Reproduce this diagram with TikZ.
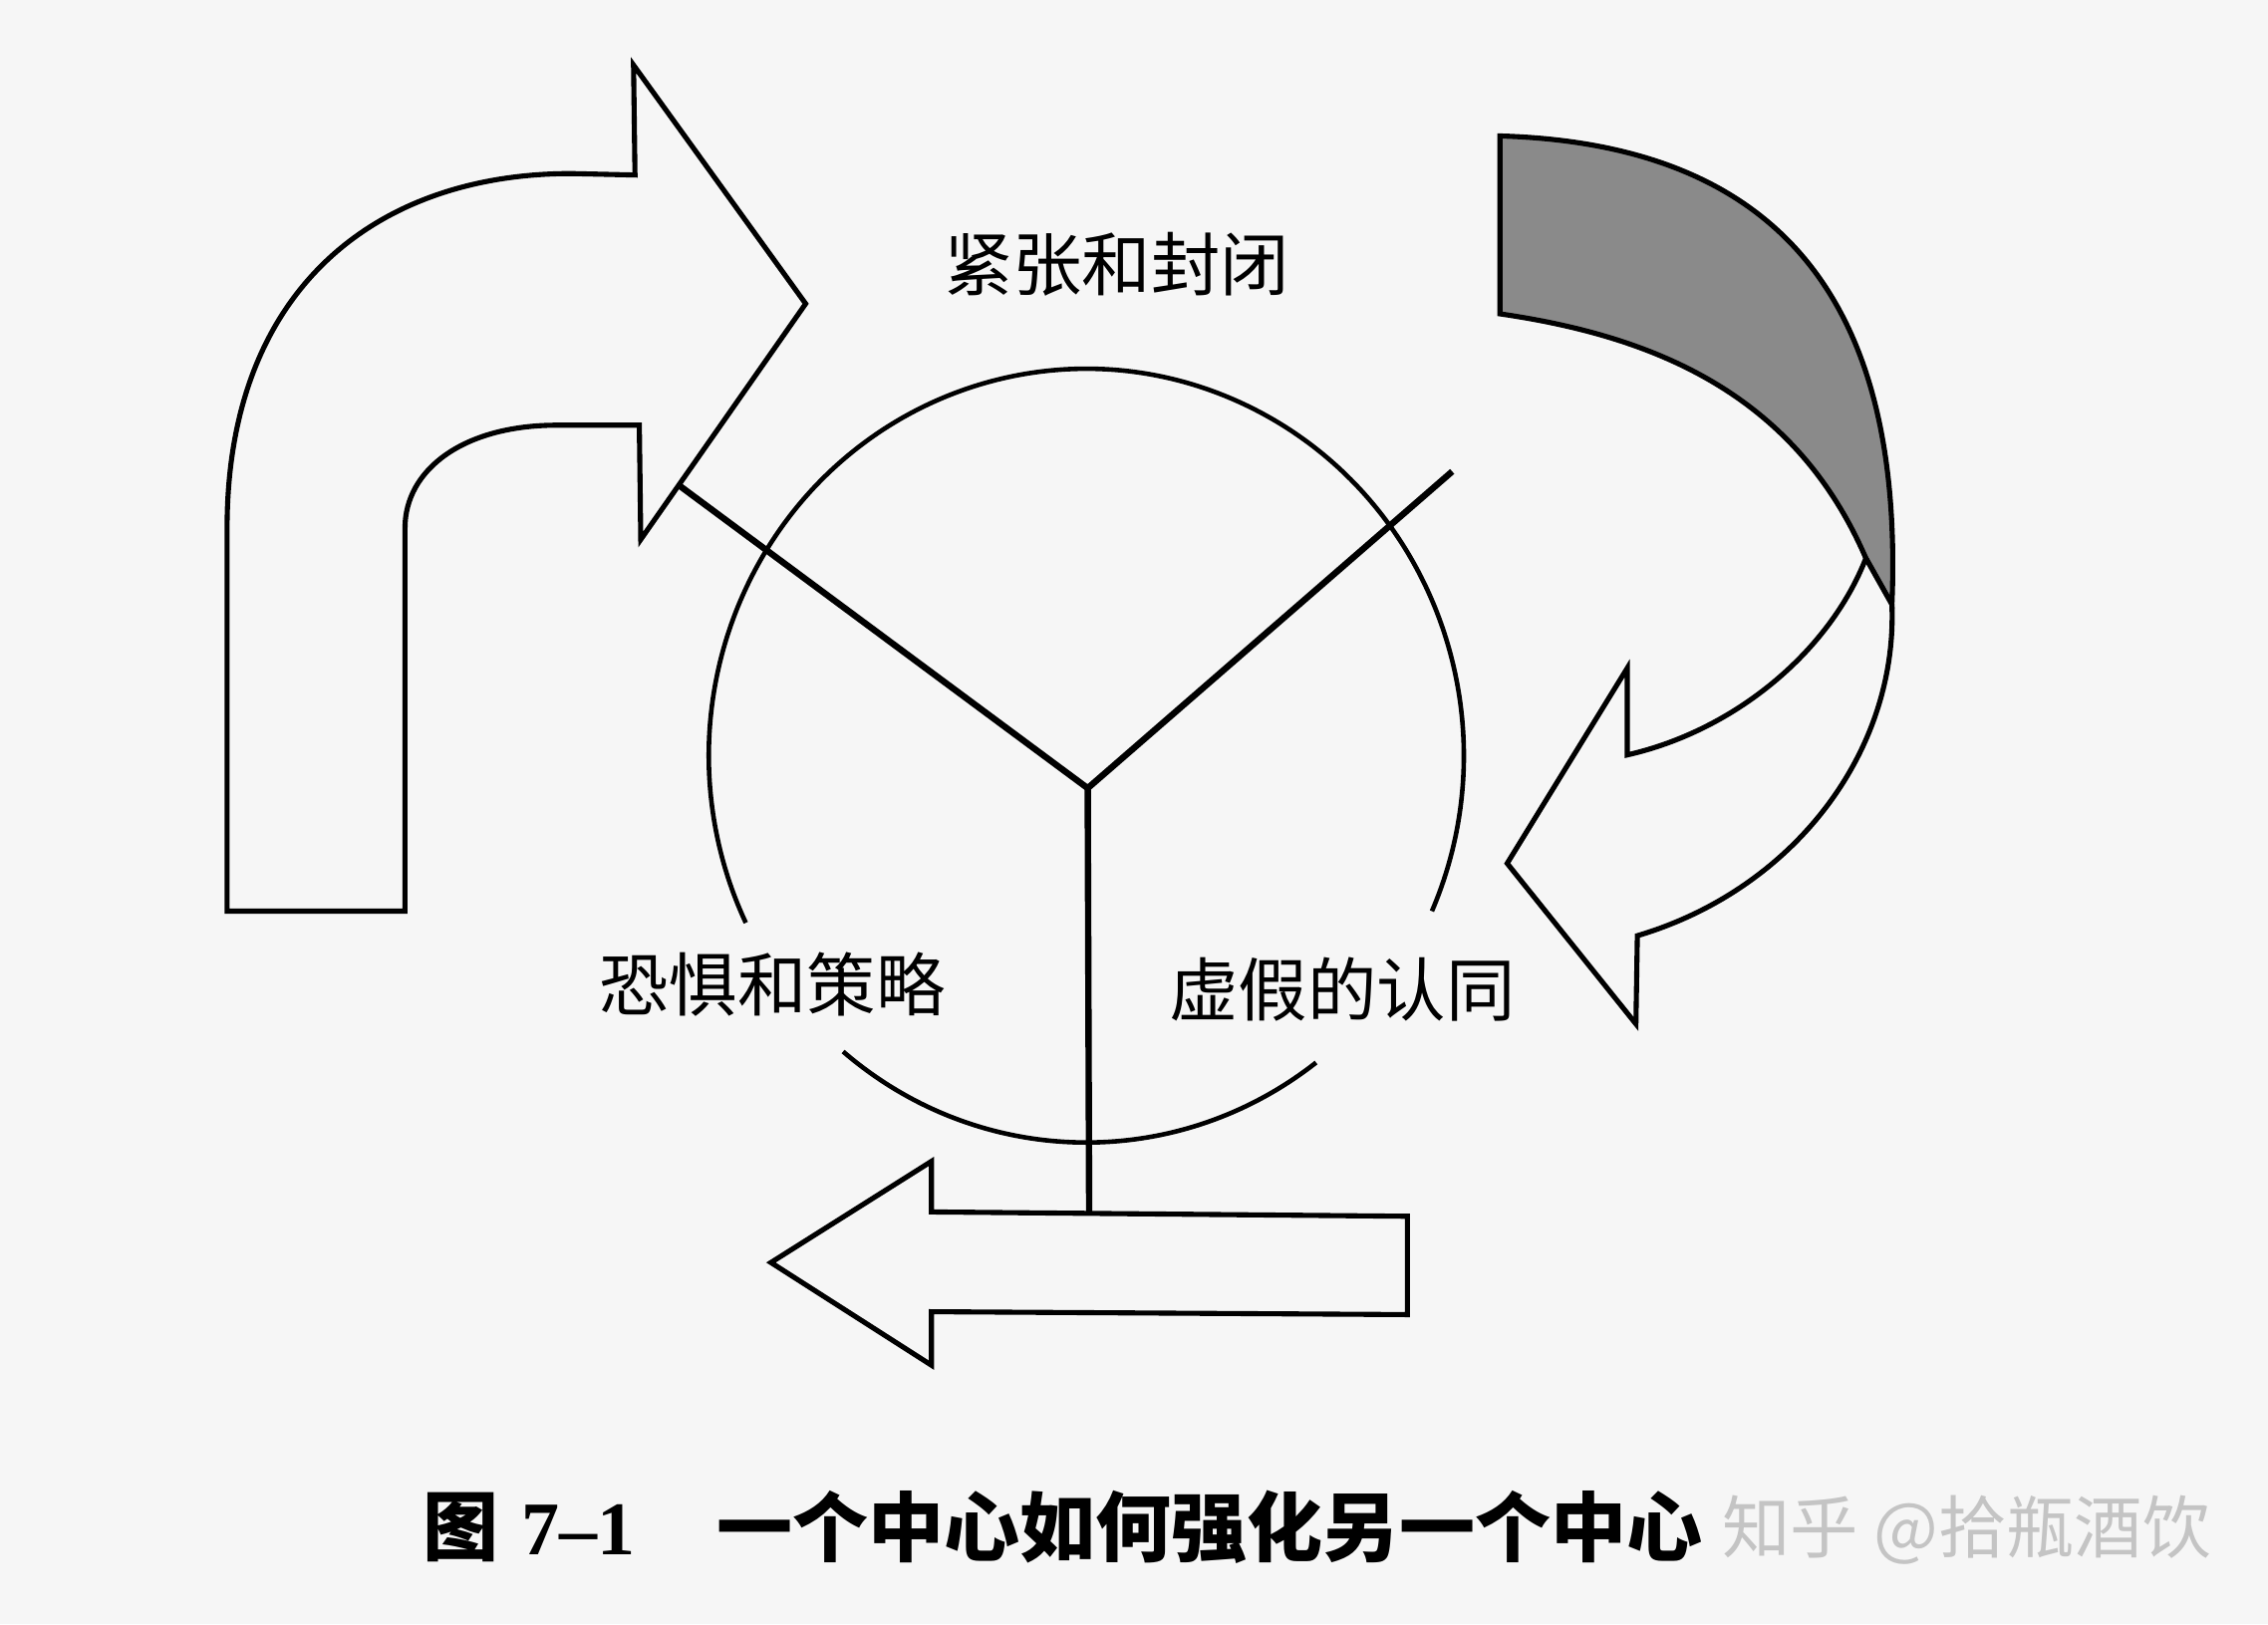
\documentclass[tikz,border=0pt]{standalone}
\usepackage{fontspec}
\newfontfamily\cjk{Noto Sans CJK SC}
\newfontfamily\numfont{Liberation Serif}
\definecolor{paper}{HTML}{F6F6F6}
\definecolor{band}{HTML}{8A8A8A}
\definecolor{wmark}{HTML}{C4C4C4}
\begin{document}
\begin{tikzpicture}[x=0.01cm,y=-0.01cm,
  outline/.style={draw=black,line width=1.0pt,line join=miter},
  yline/.style={draw=black,line width=1.25pt},
  ring/.style={draw=black,line width=0.9pt},
  lbl/.style={font=\cjk\fontsize{13.6pt}{16pt}\selectfont,inner sep=0pt},
  captext/.style={font=\cjk\bfseries\fontsize{14.9pt}{18pt}\selectfont,inner sep=0pt,anchor=west},
  wm/.style={font=\cjk\fontsize{13.4pt}{16pt}\selectfont,inner sep=0pt,anchor=west,text=wmark}]
\fill[paper] (0,0) rectangle (1568,1123);
\useasboundingbox (0,0) rectangle (1568,1123);

% top-left bent arrow
\draw[outline] (157,630) -- (157,365) .. controls (157,200) and (260,120) .. (395,120)
  -- (439,121) -- (438,45) -- (557,210) -- (443,373) -- (442,294) -- (385,294)
  .. controls (320,294) and (280,325) .. (280,365) -- (280,630) -- cycle;

% circle (broken)
\coordinate (circ) at (751,522.5);
\draw[ring] ([shift={(23.7:261 and 267.5)}]circ) arc[start angle=23.7,end angle=-205.6,x radius=261,y radius=267.5];
\draw[ring] ([shift={(130.1:261 and 267.5)}]circ) arc[start angle=130.1,end angle=52.5,x radius=261,y radius=267.5];

% bottom arrow
\draw[outline] (533,873) -- (644,803) -- (644,838) -- (973,841) -- (973,909) -- (644,907) -- (644,944) -- cycle;

% right curved ribbon arrow
\filldraw[outline,fill=band] (1037,94) .. controls (1242,100) and (1316,222) .. (1308,418)
  -- (1290,386) .. controls (1240,270) and (1140,232) .. (1037,217) -- cycle;
\filldraw[outline,fill=paper] (1308,418) .. controls (1312,520) and (1240,615) .. (1132,647)
  -- (1131,708) -- (1042,597) -- (1125,462) -- (1125,522)
  .. controls (1200,505) and (1265,450) .. (1290,386) -- cycle;

% Y lines
\coordinate (ctr) at (752,545);
\coordinate (ya) at (470,336);
\coordinate (yb) at (1004,326);
\coordinate (yc) at (753,838);
\draw[yline] (ya) -- (ctr) -- (yb);
\draw[yline] (ctr) -- (yc);

% labels
\node[lbl] (top) at (772,183) {紧张和封闭};
\node[lbl] (left) at (534,681) {恐惧和策略};
\node[lbl] (right) at (928,684) {虚假的认同};

% caption
\node[captext] (fig) at (292,1056) {图\hspace{0.3em}{\numfont\bfseries 7–1}};
\node[captext] (title) at (495,1056) {一个中心如何强化另一个中心};
\node[wm] (mark) at (1190,1058) {知乎 @拾瓶酒饮};
\end{tikzpicture}
\end{document}
